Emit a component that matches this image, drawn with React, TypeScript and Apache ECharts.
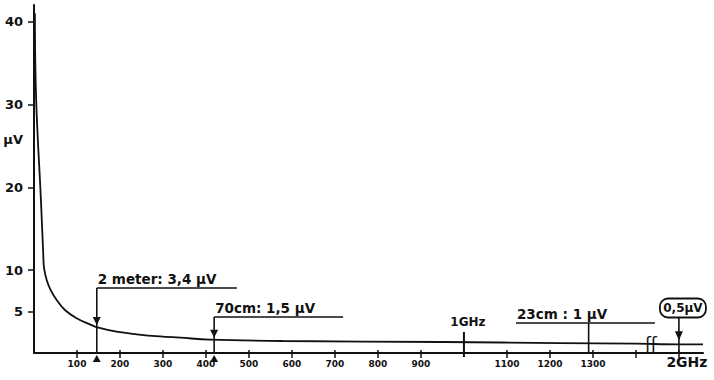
import { useEffect, useRef } from "react";
import * as echarts from "echarts";

// Sensitivity curve: frequency (MHz) -> µV
const freqMHz = [2, 5, 16, 21.6, 23.3, 29.5, 38.8, 52.8, 72, 99, 130, 150, 192, 239, 293, 340, 409, 579, 951, 1223, 1400, 2000, 2056];
const microVolts = [41, 30.6, 18.6, 11.8, 10.26, 8.81, 7.6, 6.4, 5.19, 4.19, 3.46, 3.05, 2.57, 2.26, 2.0, 1.85, 1.62, 1.45, 1.33, 1.2, 1.12, 1.05, 1.05];

// Axis ticks / labels
const yTickValues = [5, 10, 20, 30, 40];
const yUnitLabel = "µV";
const xTickMHz = [100, 200, 300, 400, 500, 600, 700, 800, 900, 1100, 1200, 1300, 1400, 2000];
const xLabelMHz = [100, 200, 300, 400, 500, 600, 700, 800, 900, 1100, 1200, 1300, 2000];

// Annotations
const calloutLabels = ["2 meter: 3,4 µV", "70cm: 1,5 µV", "23cm : 1 µV"];
const calloutMHz = [146, 419, 1290];
const markerLabel = "1GHz";
const markerMHz = 1000;
const boxLabel = "0,5µV";
const boxMHz = 2000;
const breakGlyph = "ʃʃ";

// Layout (positions, not data)
const yUnitAt = 25.8;
const calloutLayout = [
  { level: 7.85, from: 146, to: 472, arrow: true },
  { level: 4.34, from: 419, to: 719, arrow: true },
  { level: 3.62, from: 1121, to: 1444, arrow: false },
];
const markerTop = 2.53;
const boxLevel = 5.43;
const breakPos = 1435;

// broken axis: everything from 1.9 GHz on is moved 500 MHz to the left
const pos = (f: number) => (f >= 1900 ? f - 500 : f);
const curveAt = (f: number) => {
  for (let i = 1; i < freqMHz.length; i++) {
    if (f <= freqMHz[i]) {
      const t = (f - freqMHz[i - 1]) / (freqMHz[i] - freqMHz[i - 1]);
      return microVolts[i - 1] + t * (microVolts[i] - microVolts[i - 1]);
    }
  }
  return microVolts[microVolts.length - 1];
};

const INK = "#111";
const FONT = "DejaVu Sans";

export default function App() {
  const ref = useRef<HTMLDivElement>(null);
  useEffect(() => {
    if (!ref.current) return;
    const chart = echarts.init(ref.current, undefined, { renderer: "svg" });
    const stroke = { stroke: INK, lineWidth: 1.6 };
    chart.setOption({
      animation: false,
      backgroundColor: "#fff",
      grid: { left: 34, right: 11, top: 5, bottom: 27, outerBoundsMode: "none" },
      xAxis: {
        type: "value",
        min: 0,
        max: 1556,
        splitLine: { show: false },
        axisLine: { lineStyle: { color: INK, width: 2 } },
        axisTick: {
          customValues: xTickMHz.map(pos),
          length: 5,
          lineStyle: { color: INK, width: 1.5 },
        },
        axisLabel: {
          customValues: xLabelMHz.map(pos),
          margin: 6,
          color: INK,
          fontSize: 9,
          fontWeight: "bold",
          fontFamily: FONT,
          formatter: (v: number) => (v >= 1500 ? "{big|2GHz}" : String(v)),
          rich: { big: { fontSize: 14, fontFamily: FONT, color: INK, padding: [-4, 0, 0, 16] } },
        },
      },
      yAxis: {
        type: "value",
        min: 0,
        max: 42,
        splitLine: { show: false },
        axisLine: { lineStyle: { color: INK, width: 2 } },
        axisTick: { customValues: yTickValues, length: 6, lineStyle: { color: INK, width: 1.5 } },
        axisLabel: {
          customValues: [...yTickValues, yUnitAt],
          margin: 11,
          color: INK,
          fontSize: 13,
          fontWeight: "bold",
          fontFamily: FONT,
          formatter: (v: number) => (v === yUnitAt ? yUnitLabel : String(v)),
        },
      },
      series: [
        {
          type: "line",
          data: freqMHz.map((f, i) => [pos(f), microVolts[i]]),
          showSymbol: false,
          smooth: 0.4,
          lineStyle: { color: INK, width: 1.8 },
          silent: true,
        },
        {
          type: "custom",
          silent: true,
          data: xTickMHz.map((f) => [pos(f), 0]),
          renderItem: (_p: any, api: any) => {
            const [x, y] = api.coord([api.value(0), 0]);
            return { type: "line", shape: { x1: x, y1: y, x2: x, y2: y - 3 }, style: { stroke: INK, lineWidth: 1.5 } };
          },
        },
        {
          type: "custom",
          silent: true,
          data: calloutMHz.map((f, i) => [pos(f), calloutLayout[i].level]),
          renderItem: (params: any, api: any) => {
            const i = params.dataIndex;
            const f = calloutMHz[i];
            const L = calloutLayout[i];
            const [x, axisY] = api.coord([pos(f), 0]);
            const levelY = api.coord([pos(f), L.level])[1];
            const x0 = api.coord([pos(L.from), 0])[0];
            const x1 = api.coord([pos(L.to), 0])[0];
            const cy = api.coord([pos(f), curveAt(f)])[1];
            const children: any[] = [
              { type: "line", shape: { x1: x, y1: levelY, x2: x, y2: axisY }, style: stroke },
              { type: "line", shape: { x1: x0, y1: levelY, x2: x1, y2: levelY }, style: stroke },
              {
                type: "text",
                x: x0 + 1,
                y: levelY - 2,
                style: { text: calloutLabels[i], fill: INK, fontSize: 13.5, fontWeight: "bold", fontFamily: FONT, align: "left", verticalAlign: "bottom" },
              },
            ];
            if (L.arrow) {
              const tip = cy - 2;
              children.push({ type: "polygon", shape: { points: [[x, tip], [x - 4, tip - 8], [x + 4, tip - 8]] }, style: { fill: INK } });
              children.push({ type: "polygon", shape: { points: [[x, axisY + 2], [x - 4, axisY + 9], [x + 4, axisY + 9]] }, style: { fill: INK } });
            }
            return { type: "group", children };
          },
        },
        {
          type: "custom",
          silent: true,
          data: [[pos(markerMHz), markerTop]],
          renderItem: (_p: any, api: any) => {
            const [x, top] = api.coord([api.value(0), api.value(1)]);
            const axisY = api.coord([api.value(0), 0])[1];
            return {
              type: "group",
              children: [
                { type: "line", shape: { x1: x, y1: top, x2: x, y2: axisY + 4 }, style: { stroke: INK, lineWidth: 2 } },
                {
                  type: "text",
                  x: x + 4,
                  y: top - 10,
                  style: { text: markerLabel, fill: INK, fontSize: 12, fontWeight: "bold", fontFamily: FONT, align: "center", verticalAlign: "middle" },
                },
              ],
            };
          },
        },
        {
          type: "custom",
          silent: true,
          data: [[pos(boxMHz), boxLevel]],
          renderItem: (_p: any, api: any) => {
            const [x, by] = api.coord([api.value(0), api.value(1)]);
            const axisY = api.coord([api.value(0), 0])[1];
            const cy = api.coord([api.value(0), curveAt(boxMHz)])[1];
            const tip = cy - 4;
            return {
              type: "group",
              children: [
                { type: "rect", shape: { x: x - 19, y: by - 9.5, width: 46, height: 19, r: 8 }, style: { fill: "#fff", stroke: INK, lineWidth: 1.8 } },
                {
                  type: "text",
                  x: x + 4,
                  y: by,
                  style: { text: boxLabel, fill: INK, fontSize: 12, fontWeight: "bold", fontFamily: FONT, align: "center", verticalAlign: "middle" },
                },
                { type: "line", shape: { x1: x, y1: by + 9.5, x2: x, y2: axisY }, style: stroke },
                { type: "polygon", shape: { points: [[x, tip], [x - 4, tip - 9], [x + 4, tip - 9]] }, style: { fill: INK } },
              ],
            };
          },
        },
        {
          type: "custom",
          silent: true,
          data: [[breakPos, 0]],
          renderItem: (_p: any, api: any) => {
            const [x, y] = api.coord([api.value(0), 0]);
            return {
              type: "text",
              x,
              y: y - 9,
              style: { text: breakGlyph, fill: INK, fontSize: 17, fontFamily: FONT, align: "center", verticalAlign: "middle" },
            };
          },
        },
      ],
    });
    return () => chart.dispose();
  }, []);
  return <div ref={ref} style={{ position: "fixed", left: 0, top: 0, width: 714, height: 380, background: "#fff" }} />;
}
